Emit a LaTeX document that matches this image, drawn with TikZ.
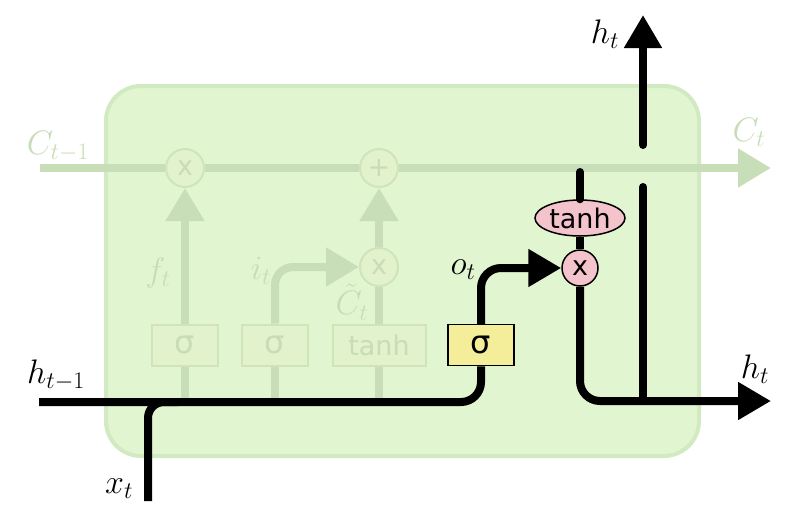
\RequirePackage{fix-cm}
\documentclass[tikz,border=0pt]{standalone}
\usepackage{fontspec}
\usetikzlibrary{arrows.meta,shapes.geometric}
\newfontfamily\dvsans{DejaVu Sans}
\definecolor{cellfill}{RGB}{224,245,208}
\definecolor{cellborder}{RGB}{210,234,194}
\definecolor{fade}{RGB}{200,222,184}
\definecolor{fadebox}{RGB}{226,242,204}
\definecolor{fadeboxline}{RGB}{208,228,186}
\definecolor{fadetext}{RGB}{200,220,182}
\definecolor{pinkop}{RGB}{244,196,204}
\definecolor{yellowbox}{RGB}{244,238,154}
\tikzset{
  mathlbl/.style={font=\fontsize{34}{40}\selectfont, inner sep=0pt},
  fadeline/.style={draw=fade, line width=8pt},
  blackline/.style={draw=black, line width=8pt},
  fadetip/.style={-{Triangle[length=33pt,width=37pt]}},
  blacktip/.style={-{Triangle[length=33pt,width=36pt]}},
  fadeop/.style={circle, minimum size=38pt, inner sep=0pt, draw=fadeboxline, line width=2pt, fill=fadebox, text=fadetext, font=\dvsans\fontsize{27}{30}\selectfont},
  fadegate/.style={rectangle, minimum height=41pt, inner sep=0pt, draw=fadeboxline, line width=2pt, fill=fadebox, text=fadetext},
  pinkop/.style={circle, minimum size=36pt, inner sep=0pt, draw=black, line width=1.5pt, fill=pinkop, font=\dvsans\fontsize{27}{30}\selectfont},
}
\begin{document}
\begin{tikzpicture}[x=1pt,y=-1pt]
\useasboundingbox (0,0) rectangle (800,509);
% cell
\node[draw=cellborder, fill=cellfill, line width=4pt, rounded corners=35pt, minimum width=593pt, minimum height=370pt, inner sep=0pt] (cell) at (402.5,271) {};
% faded part
\coordinate (cin) at (40,168);
\coordinate (cout) at (771,168);
\node[fadeop] (mulf) at (185,168) {x};
\node[fadeop] (addc) at (379,168) {+};
\node[fadeop] (muli) at (379,267) {x};
\node[fadegate, minimum width=66pt, font=\dvsans\fontsize{32}{36}\selectfont] (sigf) at (185,345) {σ};
\node[fadegate, minimum width=66pt, font=\dvsans\fontsize{32}{36}\selectfont] (sigi) at (275,345) {σ};
\node[fadegate, minimum width=93pt, font=\dvsans\fontsize{27}{30}\selectfont] (tanhg) at (379,345) {tanh};
\coordinate (hin) at (39,402);
\draw[fadeline, fadetip] (cin) -- (mulf) -- (addc) -- (cout);
\draw[fadeline, fadetip] (sigf.north) -- (mulf.south);
\draw[fadeline, fadetip, rounded corners=18pt] (sigi.north) -- (sigi.north |- muli) -- (muli.west);
\draw[fadeline] (tanhg.north) -- (muli.south);
\draw[fadeline, fadetip] (muli.north) -- (addc.south);
\draw[fadeline] (sigf.south) -- (sigf.south |- hin);
\draw[fadeline] (sigi.south) -- (sigi.south |- hin);
\draw[fadeline] (tanhg.south) -- (tanhg.south |- hin);
\node[mathlbl, text=fadetext] (lcin) at (58,146) {$C_{t-1}$};
\node[mathlbl, text=fadetext] (lcout) at (749,132) {$C_t$};
\node[mathlbl, text=fadetext] (lf) at (158,273) {$f_t$};
\node[mathlbl, text=fadetext] (li) at (261,271) {$i_t$};
\node[mathlbl, text=fadetext] (lct) at (352,302) {$\tilde{C}_t$};
% output gate (black)
\coordinate (xin) at (148,501);
\coordinate (hout) at (771,401);
\coordinate (ctap) at (580,172);
\coordinate (htlow) at (643,187);
\coordinate (htup) at (643,145);
\coordinate (httip) at (643,15);
\node[pinkop] (mulo) at (580,268) {x};
\node[ellipse, draw=black, line width=1.5pt, fill=pinkop, minimum width=90pt, minimum height=36pt, inner sep=0pt, font=\dvsans\fontsize{27}{30}\selectfont] (tanho) at (580,218) {tanh};
\node[rectangle, draw=black, line width=1.5pt, fill=yellowbox, minimum width=66pt, minimum height=41pt, inner sep=0pt, font=\dvsans\fontsize{32}{36}\selectfont] (sigo) at (481,345) {σ};
\draw[blackline, rounded corners=20pt] (hin) -- (sigo.south |- hin) -- (sigo.south);
\draw[blackline, rounded corners=16pt] (xin) -- (xin |- hin) -- ++(30,0);
\draw[blackline, blacktip, rounded corners=20pt] (sigo.north) -- (sigo.north |- mulo) -- (mulo.west);
\draw[blackline, line cap=round] (ctap) -- (tanho.north);
\draw[blackline] (tanho.south) -- (mulo.north);
\draw[blackline, blacktip, rounded corners=20pt] (mulo.south) -- (mulo.south |- hout) -- (hout);
\draw[blackline, line cap=round] (htlow) -- (htlow |- hout);
\draw[blackline, blacktip, line cap=round] (htup) -- (httip);
\node[mathlbl] (lhin) at (56,375) {$h_{t-1}$};
\node[mathlbl] (lx) at (119,489) {$x_t$};
\node[mathlbl] (lhout) at (755,369) {$h_t$};
\node[mathlbl] (lhtop) at (605,34) {$h_t$};
\node[mathlbl] (lo) at (463,270) {$o_t$};
\end{tikzpicture}
\end{document}
